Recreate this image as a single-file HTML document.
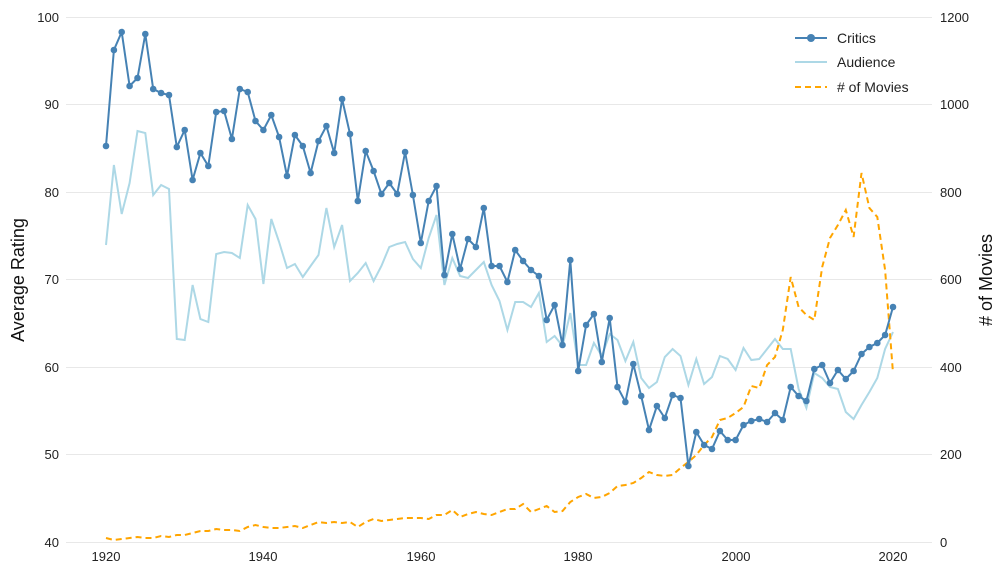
<!DOCTYPE html>
<html><head><meta charset="utf-8"><style>
body{margin:0;background:#fff}
svg{display:block;font-family:"Liberation Sans",sans-serif}
</style></head><body>
<svg id="s" width="1008" height="576" xmlns="http://www.w3.org/2000/svg">
<g stroke="#e8e8e8" stroke-width="1">
<line x1="66" x2="932" y1="17.5" y2="17.5"/><line x1="66" x2="932" y1="104.5" y2="104.5"/>
<line x1="66" x2="932" y1="192.5" y2="192.5"/><line x1="66" x2="932" y1="279.5" y2="279.5"/>
<line x1="66" x2="932" y1="367.5" y2="367.5"/><line x1="66" x2="932" y1="454.5" y2="454.5"/>
<line x1="66" x2="932" y1="542.5" y2="542.5"/>
</g>
<g font-size="13" fill="#222" text-anchor="end">
<text x="59" y="22">100</text><text x="59" y="109">90</text><text x="59" y="197">80</text>
<text x="59" y="284">70</text><text x="59" y="372">60</text><text x="59" y="459">50</text><text x="59" y="547">40</text>
</g>
<g font-size="13" fill="#222" text-anchor="start">
<text x="940" y="22">1200</text><text x="940" y="109">1000</text><text x="940" y="197">800</text>
<text x="940" y="284">600</text><text x="940" y="372">400</text><text x="940" y="459">200</text><text x="940" y="547">0</text>
</g>
<g font-size="13" fill="#222" text-anchor="middle">
<text x="106" y="561">1920</text><text x="263" y="561">1940</text><text x="421" y="561">1960</text>
<text x="578" y="561">1980</text><text x="736" y="561">2000</text><text x="893" y="561">2020</text>
</g>
<text transform="translate(24,280) rotate(-90)" font-size="18" text-anchor="middle" fill="#111">Average Rating</text>
<text transform="translate(992,280) rotate(-90)" font-size="18" text-anchor="middle" fill="#111"># of Movies</text>
<polyline id="aud" fill="none" stroke="#add8e6" stroke-width="2"/>
<polyline id="mov" fill="none" stroke="#ffa500" stroke-width="2" stroke-dasharray="6,4"/>
<polyline id="cri" fill="none" stroke="#4682b4" stroke-width="2"/>
<g id="dots" fill="#4682b4"></g>
<line x1="795" x2="827" y1="38" y2="38" stroke="#4682b4" stroke-width="2"/><circle cx="811" cy="38" r="4" fill="#4682b4"/>
<line x1="795" x2="827" y1="62" y2="62" stroke="#add8e6" stroke-width="2"/>
<line x1="795" x2="827" y1="87" y2="87" stroke="#ffa500" stroke-width="2" stroke-dasharray="6,4"/>
<g font-size="14" fill="#222"><text x="837" y="43">Critics</text><text x="837" y="67">Audience</text><text x="837" y="92"># of Movies</text></g>
</svg>
<script>
var c=[146,50,32,86,78,34,89,93,95,147,130,180,153,166,112,111,139,89,92,121,130,115,137,176,135,146,173,141,126,153,99,134,201,151,171,194,183,194,152,195,243,201,186,275,234,269,239,247,208,266,266,282,250,261,270,276,320,305,345,260,371,325,314,362,318,387,402,364,396,430,406,418,395,398,466,432,445,449,431,440,440,425,421,419,422,413,420,387,396,401,369,365,383,370,379,371,354,347,343,335,307];
var a=[245,165,214,183,131,133,195,185,189,339,340,285,319,322,254,252,253,258,205,219,284,219,242,268,264,277,266,255,208,247,225,281,273,263,281,266,247,244,242,259,268,238,215,285,258,276,278,270,262,285,301,330,302,302,307,293,342,336,346,313,365,365,343,356,334,340,361,342,378,388,382,357,349,356,385,359,384,377,356,359,370,348,360,359,349,339,349,349,389,408,373,378,387,389,412,419,405,392,378,349,332];
var m=[538,540,539,538,537,538,538,536,537,535,535,533,531,531,529,530,530,531,527,525,527,528,528,527,526,528,525,522,523,522,523,522,527,522,519,521,520,519,518,518,518,519,515,515,510,517,514,512,514,515,512,509,509,504,512,509,506,512,511,502,497,494,498,497,493,486,485,483,478,472,475,476,475,468,462,455,445,437,420,418,413,407,386,388,365,357,330,277,307,315,320,267,238,225,210,237,173,208,217,270,373];
function X(i){return 106+i*7.87}
function P(arr){return arr.map(function(v,i){return X(i).toFixed(1)+','+v}).join(' ')}
document.getElementById('cri').setAttribute('points',P(c));
document.getElementById('aud').setAttribute('points',P(a));
document.getElementById('mov').setAttribute('points',P(m));
var g=document.getElementById('dots'),h='';
c.forEach(function(v,i){h+='<circle cx="'+X(i).toFixed(1)+'" cy="'+v+'" r="3.3"/>'});
g.innerHTML=h;
</script>
</body></html>
